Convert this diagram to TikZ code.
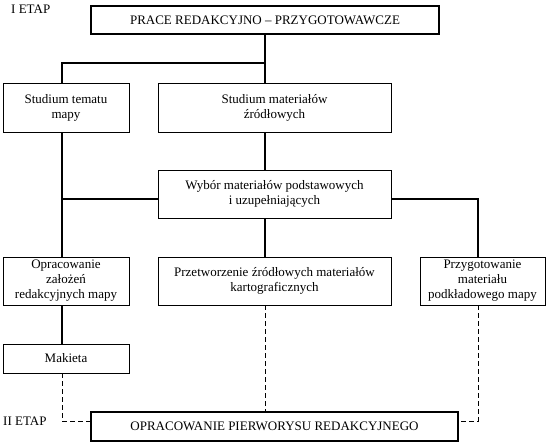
\documentclass[tikz,border=0pt]{standalone}
\usepackage{fontspec}
\setmainfont{Liberation Serif}
\usepackage{tikz}
\usetikzlibrary{calc,positioning}
\tikzset{stage/.style={draw=black, line width=0.7pt, align=center, inner sep=1pt, font=\fontsize{13}{15}\selectfont}}
\tikzset{mainstage/.style={stage, line width=2pt}}
\tikzset{conn/.style={draw=black, line width=1.4pt}}
\tikzset{dashconn/.style={draw=black, line width=0.8pt, dash pattern=on 5pt off 3pt}}

\begin{document}
\begin{tikzpicture}[x=1pt, y=-1pt]
                        \useasboundingbox (0,0) rectangle (550,445);
                        \node[anchor=west, font=\fontsize{13}{15}\selectfont, inner sep=0pt] (etap1) at (11, 9) {I ETAP};
                        \node[anchor=west, font=\fontsize{13}{15}\selectfont, inner sep=0pt] (etap2) at (3, 421) {II ETAP};
                        \node[mainstage, minimum width=348, minimum height=28] (prace) at (265, 20) {PRACE REDAKCYJNO -- PRZYGOTOWAWCZE};
                        \node[stage, minimum width=126, minimum height=49] (studtem) at (66, 107.5) {Studium tematu\\mapy};
                        \node[stage, minimum width=233, minimum height=49] (studmat) at (274.5, 107.5) {Studium materiałów\\źródłowych};
                        \node[stage, minimum width=233, minimum height=48] (wybor) at (274.5, 194) {Wybór materiałów podstawowych\\i uzupełniających};
                        \node[stage, minimum width=126, minimum height=48] (oprac) at (66, 281) {Opracowanie\\założeń\\redakcyjnych mapy};
                        \node[stage, minimum width=233, minimum height=48] (przetw) at (274.5, 281) {Przetworzenie źródłowych materiałów\\kartograficznych};
                        \node[stage, minimum width=125, minimum height=48] (przyg) at (482.5, 281) {Przygotowanie\\materiału\\podkładowego mapy};
                        \node[stage, minimum width=126, minimum height=29] (makieta) at (66, 358.5) {Makieta};
                        \node[mainstage, minimum width=367, minimum height=29] (pierw) at (274.5, 426.5) {OPRACOWANIE PIERWORYSU REDAKCYJNEGO};

                        \coordinate (ja) at (62, 63);
                        \coordinate (jb) at (62, 199);
                        \coordinate (jc) at (478, 199);
                        \coordinate (jd) at (62, 421);
                        \coordinate (je) at (478, 421);

                        \draw[conn] (prace.south) -- (prace.south |- studmat.north);
                        \draw[conn] (prace.south |- ja) -- (ja) -- (ja |- studtem.north);
                        \draw[conn] (prace.south |- studmat.south) -- (prace.south |- wybor.north);
                        \draw[conn] (ja |- studtem.south) -- (ja |- oprac.north);
                        \draw[conn] (jb) -- (jb -| wybor.west);
                        \draw[conn] (wybor.east |- jc) -- (jc) -- (jc |- przyg.north);
                        \draw[conn] (prace.south |- wybor.south) -- (prace.south |- przetw.north);
                        \draw[conn] (ja |- oprac.south) -- (ja |- makieta.north);

                        \draw[dashconn] (ja |- makieta.south) -- (jd) -- (jd -| pierw.west);
                        \draw[dashconn] (prace.south |- przetw.south) -- (prace.south |- pierw.north);
                        \draw[dashconn] (jc |- przyg.south) -- (je) -- (je -| pierw.east);
                    \end{tikzpicture}
\end{document}
